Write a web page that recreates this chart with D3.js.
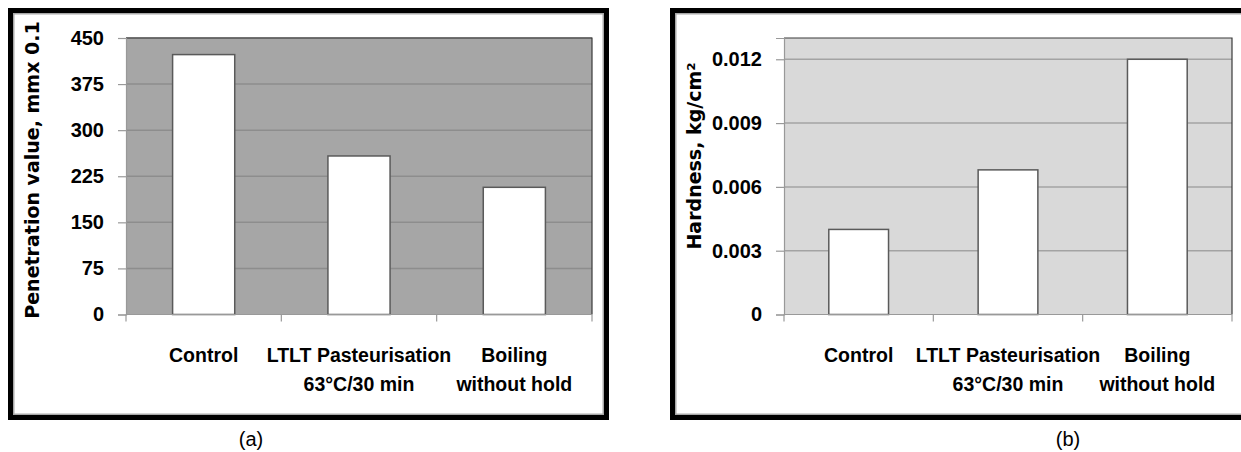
<!DOCTYPE html>
<html>
<head>
<meta charset="utf-8">
<script src="https://cdn.jsdelivr.net/npm/d3@7"></script>
<style>
body { margin: 0; background: white; }
</style>
</head>
<body>
<div id="canvas"></div>
<script>
var w = 1241;
var h = 452;

var categories = ["Control", "LTLT Pasteurisation", "Boiling"];
var categoryLines = [["Control"], ["LTLT Pasteurisation", "63°C/30 min"], ["Boiling", "without hold"]];

var penetration = [423, 258, 207];
var penetrationTicks = [0, 75, 150, 225, 300, 375, 450];

var hardness = [0.0040, 0.0068, 0.0120];
var hardnessTicks = [0, 0.003, 0.006, 0.009, 0.012];

var tickFont = "'Liberation Sans', Arial, sans-serif";
var titleFont = "'DejaVu Sans', Verdana, sans-serif";

var canvas = d3.select("#canvas")
    .append("svg")
    .attr("width", w)
    .attr("height", h)
    .style("background-color", "white");

var plotTop = 38;
var plotBottom = 314.5;

function drawPanel(p) {
    var g = canvas.append("g");

    // black frame with the thin grey line inside it
    g.append("rect")
        .attr("x", p.frameLeft + 2.5)
        .attr("y", 10.5)
        .attr("width", p.frameRight - p.frameLeft - 5)
        .attr("height", 407)
        .attr("fill", "white")
        .attr("stroke", "black")
        .attr("stroke-width", 5);
    g.append("rect")
        .attr("x", p.frameLeft + 5.75)
        .attr("y", 13.75)
        .attr("width", p.frameRight - p.frameLeft - 11.5)
        .attr("height", 400.5)
        .attr("fill", "none")
        .attr("stroke", "#a8a8a8")
        .attr("stroke-width", 1.5);

    var xScale = d3.scaleBand()
        .domain(categories)
        .range([p.left, p.right]);

    var yScale = d3.scaleLinear()
        .domain([0, p.max])
        .range([plotBottom, plotTop]);

    g.append("rect")
        .attr("x", p.left)
        .attr("y", plotTop)
        .attr("width", p.right - p.left)
        .attr("height", plotBottom - plotTop)
        .attr("fill", p.bg);

    g.selectAll(".grid")
        .data(p.ticks.filter(function (t) { return t > 0; }))
        .join("line")
        .attr("class", "grid")
        .attr("x1", p.left)
        .attr("x2", p.right)
        .attr("y1", function (d) { return yScale(d); })
        .attr("y2", function (d) { return yScale(d); })
        .attr("stroke", p.grid)
        .attr("stroke-width", 1.5);

    var bw = xScale.bandwidth();
    g.selectAll(".bar")
        .data(p.values)
        .join("rect")
        .attr("class", "bar")
        .attr("x", function (d, i) { return xScale(categories[i]) + bw * 0.3; })
        .attr("width", bw * 0.4)
        .attr("y", function (d) { return yScale(d); })
        .attr("height", function (d) { return plotBottom - yScale(d); })
        .attr("fill", "white")
        .attr("stroke", "#5a5a5a")
        .attr("stroke-width", 1.5);

    // top and right edges of the plot area
    g.append("path")
        .attr("d", "M" + p.left + "," + plotTop + "H" + p.right + "V" + plotBottom)
        .attr("fill", "none")
        .attr("stroke", "#3a3a3a")
        .attr("stroke-width", 1.2);

    var yAxis = g.append("g")
        .attr("transform", "translate(" + p.left + ",0)")
        .call(d3.axisLeft(yScale)
            .tickValues(p.ticks)
            .tickSize(8)
            .tickPadding(14)
            .tickFormat(p.format));
    yAxis.select(".domain").attr("stroke", "#999").attr("stroke-width", 1.2);
    yAxis.selectAll(".tick line").attr("stroke", "#999").attr("stroke-width", 1.2);
    yAxis.selectAll("text")
        .attr("font-family", tickFont)
        .attr("font-weight", "bold")
        .attr("font-size", "20px")
        .attr("fill", "black");

    // x axis line and tick marks at the band edges
    g.append("line")
        .attr("x1", p.left)
        .attr("x2", p.right)
        .attr("y1", plotBottom)
        .attr("y2", plotBottom)
        .attr("stroke", "#999")
        .attr("stroke-width", 1.2);
    var edges = categories.map(function (c) { return xScale(c); }).concat([xScale.range()[1]]);
    g.selectAll(".xtick")
        .data(edges)
        .join("line")
        .attr("class", "xtick")
        .attr("x1", function (d) { return d; })
        .attr("x2", function (d) { return d; })
        .attr("y1", plotBottom)
        .attr("y2", plotBottom + 7)
        .attr("stroke", "#999")
        .attr("stroke-width", 1.2);

    var labels = g.selectAll(".xlabel")
        .data(categoryLines)
        .join("text")
        .attr("class", "xlabel")
        .attr("x", function (d, i) { return xScale(categories[i]) + bw / 2; })
        .attr("y", 362)
        .attr("text-anchor", "middle")
        .attr("font-family", tickFont)
        .attr("font-weight", "bold")
        .attr("font-size", "19.5px")
        .attr("fill", "black");
    labels.selectAll("tspan")
        .data(function (d, i) {
            var cx = xScale(categories[i]) + bw / 2;
            return d.map(function (line) { return { text: line, x: cx }; });
        })
        .join("tspan")
        .attr("x", function (d) { return d.x; })
        .attr("dy", function (d, i) { return i === 0 ? 0 : 29; })
        .text(function (d) { return d.text; });

    g.append("text")
        .attr("transform", "translate(" + p.titleX + "," + p.titleY + ") rotate(-90)")
        .attr("text-anchor", "middle")
        .attr("font-family", titleFont)
        .attr("font-weight", "bold")
        .attr("font-size", "19px")
        .attr("fill", "black")
        .text(p.title);

    canvas.append("text")
        .attr("x", p.captionX)
        .attr("y", 446)
        .attr("text-anchor", "middle")
        .attr("font-family", tickFont)
        .attr("font-size", "20px")
        .attr("fill", "black")
        .text(p.caption);
}

drawPanel({
    frameLeft: 8, frameRight: 609,
    left: 126, right: 592,
    max: 450, ticks: penetrationTicks, values: penetration,
    format: d3.format("d"),
    bg: "#a6a6a6", grid: "#8d8d8d",
    title: "Penetration value, mmx 0.1", titleX: 39, titleY: 170,
    caption: "(a)", captionX: 251
});

drawPanel({
    frameLeft: 670, frameRight: 1260,
    left: 784, right: 1232,
    max: 0.013, ticks: hardnessTicks, values: hardness,
    format: function (d) { return d === 0 ? "0" : d3.format(".3f")(d); },
    bg: "#d9d9d9", grid: "#a3a3a3",
    title: "Hardness, kg/cm²", titleX: 701, titleY: 156,
    caption: "(b)", captionX: 1068
});
</script>
</body>
</html>
